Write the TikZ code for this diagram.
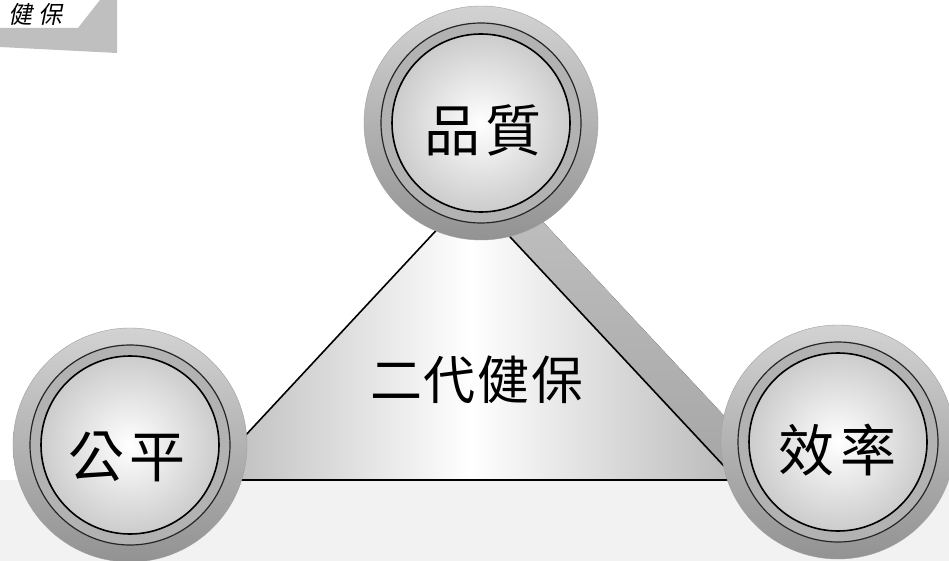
\documentclass[tikz,border=0pt]{standalone}
\usepackage{fontspec}
\newfontfamily\cjk{Noto Sans CJK TC}
\newfontfamily\cjkit[FakeSlant=0.2]{Noto Sans CJK TC}
\begin{document}
\begin{tikzpicture}[x=1pt,y=-1pt,
  edge/.style={draw=black, line width=1.6pt},
  outerdisk/.style={circle, inner sep=0pt, minimum size=234pt, top color=gray!35, bottom color=gray!85, draw=gray!75},
  middisk/.style={circle, inner sep=0pt, minimum size=200pt, fill=gray!60, draw=black!85, line width=1.2pt},
  innerdisk/.style={circle, inner sep=0pt, minimum size=178pt, inner color=white, outer color=gray!40, draw=black, line width=1.6pt},
  badgetext/.style={font=\cjk\fontsize{56}{60}\selectfont, inner sep=0pt},
  centertext/.style={font=\cjk\fontsize{52}{56}\selectfont, inner sep=0pt}
]
\useasboundingbox (0,0) rectangle (949,561);
\clip (0,0) rectangle (949,561);
\fill[white] (0,0) rectangle (949,561);

% floor
\fill[gray!10] (0,480) rectangle (949,561);

% top-left tab (cut off)
\fill[gray!50] (0,28) -- (78,28) -- (100,0) -- (117,0) -- (117,53) -- (0,47) -- cycle;
\node[font=\cjkit\fontsize{24}{26}\selectfont, inner sep=0pt] (tab) at (36,14) {健\hspace{6pt}保};

% triangle vertices
\coordinate (A) at (470,194);
\coordinate (B) at (204,480);
\coordinate (C) at (737,480);
\coordinate (A2) at (517,194);
\coordinate (C2) at (784,480);

% side face
\fill[top color=gray!50, bottom color=gray!70] (A) -- (A2) -- (C2) -- (C) -- cycle;
% front face
\fill[left color=gray!55, right color=gray!55, middle color=white] (A) -- (B) -- (C) -- cycle;
\draw[edge] (A) -- (B);
\draw[edge] (A) -- (C);
\draw[edge] (B) -- (C);

\node[centertext] (mid) at (477,380) {二\hspace{2pt}代\hspace{2pt}健\hspace{2pt}保};

% badges
\node[outerdisk] (q) at (481,123) {};
\node[middisk] at (q) {};
\node[innerdisk] at (q) {};
\node[badgetext] (qt) at (483,130) {品\hspace{6pt}質};

\node[outerdisk] (f) at (130,445) {};
\node[middisk] at (f) {};
\node[innerdisk] at (f) {};
\node[badgetext] (ft) at (127,457) {公\hspace{6pt}平};

\node[outerdisk] (e) at (838,442) {};
\node[middisk] at (e) {};
\node[innerdisk] at (e) {};
\node[badgetext] (et) at (837,450) {效\hspace{6pt}率};
\end{tikzpicture}
\end{document}
